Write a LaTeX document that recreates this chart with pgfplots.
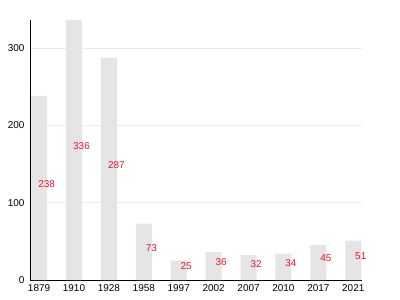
\documentclass[border=0pt]{standalone}
\usepackage{pgfplots}
\pgfplotsset{compat=1.18}
\usepackage{fontspec}
\setmainfont{Liberation Sans}
\definecolor{barc}{HTML}{E5E5E5}
\definecolor{gridc}{HTML}{EBEBEB}
\definecolor{labc}{HTML}{F0142D}
\begin{document}
\begin{tikzpicture}
\useasboundingbox (-30bp,-20bp) rectangle (370bp,280bp);
\begin{axis}[
  scale only axis,
  width=332bp, height=260bp,
  at={(0,0)}, anchor=south west,
  xmin=-0.26, xmax=9.25,
  ymin=0, ymax=336,
  axis x line*=bottom, axis y line*=left,
  axis line style={black, line width=0.8pt},
  xtick={0,...,9},
  xticklabels={1879,1910,1928,1958,1997,2002,2007,2010,2017,2021},
  ytick={0,100,200,300},
  major tick length=0pt,
  ymajorgrids, grid style={gridc, line width=0.6pt},
  tick label style={font=\fontsize{10}{12}\selectfont},
  /pgf/number format/assume math mode=true,
  xticklabel style={yshift=-1bp},
  yticklabel style={xshift=-2bp},
  clip=false,
]
\addplot[ybar, bar width=16bp, fill=barc, draw=none, bar shift=0pt]
  coordinates {(0,238) (1,336) (2,287) (3,73) (4,25) (5,36) (6,32) (7,34) (8,45) (9,51)};
\addplot[only marks, mark=none, point meta=explicit symbolic,
  nodes near coords,
  every node near coord/.append style={anchor=center, text=labc, xshift=7.5bp, yshift=4bp, font=\fontsize{10}{12}\selectfont}]
  coordinates {(0,119)[238] (1,168)[336] (2,143.5)[287] (3,36.5)[73] (4,12.5)[25] (5,18)[36] (6,16)[32] (7,17)[34] (8,22.5)[45] (9,25.5)[51]};
\end{axis}
\end{tikzpicture}
\end{document}
